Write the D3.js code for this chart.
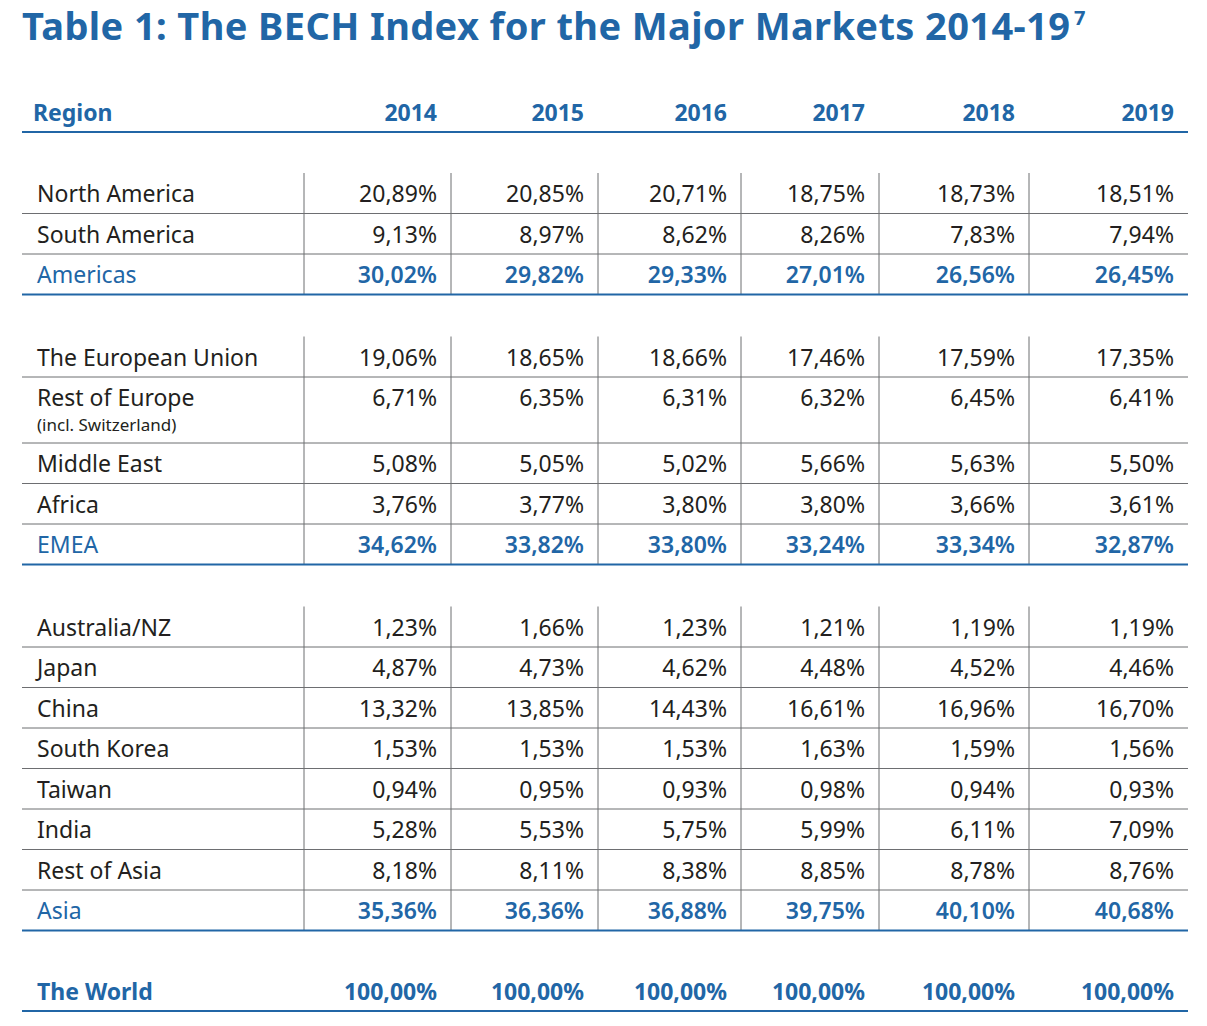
<!DOCTYPE html>
<html><head><meta charset="utf-8">
<script src="https://cdn.jsdelivr.net/npm/d3@7"></script>
<style>body{margin:0;background:#fff}svg{font-family:"Noto Sans",sans-serif}</style>
</head><body><div id="container"></div>
<script>
var years = ["2014","2015","2016","2017","2018","2019"];
var regions = ["North America","South America","Americas","The European Union","Rest of Europe","Middle East","Africa","EMEA","Australia/NZ","Japan","China","South Korea","Taiwan","India","Rest of Asia","Asia","The World"];
var totals = ["Americas","EMEA","Asia","The World"];
var groupOf = [0,0,0,1,1,1,1,1,2,2,2,2,2,2,2,2,3];
var values = [
 ["20,89%","20,85%","20,71%","18,75%","18,73%","18,51%"],
 ["9,13%","8,97%","8,62%","8,26%","7,83%","7,94%"],
 ["30,02%","29,82%","29,33%","27,01%","26,56%","26,45%"],
 ["19,06%","18,65%","18,66%","17,46%","17,59%","17,35%"],
 ["6,71%","6,35%","6,31%","6,32%","6,45%","6,41%"],
 ["5,08%","5,05%","5,02%","5,66%","5,63%","5,50%"],
 ["3,76%","3,77%","3,80%","3,80%","3,66%","3,61%"],
 ["34,62%","33,82%","33,80%","33,24%","33,34%","32,87%"],
 ["1,23%","1,66%","1,23%","1,21%","1,19%","1,19%"],
 ["4,87%","4,73%","4,62%","4,48%","4,52%","4,46%"],
 ["13,32%","13,85%","14,43%","16,61%","16,96%","16,70%"],
 ["1,53%","1,53%","1,53%","1,63%","1,59%","1,56%"],
 ["0,94%","0,95%","0,93%","0,98%","0,94%","0,93%"],
 ["5,28%","5,53%","5,75%","5,99%","6,11%","7,09%"],
 ["8,18%","8,11%","8,38%","8,85%","8,78%","8,76%"],
 ["35,36%","36,36%","36,88%","39,75%","40,10%","40,68%"],
 ["100,00%","100,00%","100,00%","100,00%","100,00%","100,00%"]
];

var blue = "#2166a6", ink = "#231f20", grey = "#6d6e71";
var L = 22, R = 1188;
var svg = d3.select("#container").append("svg").attr("width",1207).attr("height",1026);

var colX = d3.scaleOrdinal().domain(years).range([437,584,727,865,1015,1174]);
var sepX = [304,451,598,741,879,1029];

var rowH = regions.map(function(r){ return r=="Rest of Europe" ? 66 : 40.5; });
var gap = [0,42,42,40];
var tops = [], y = 173;
regions.forEach(function(r,i){
  if(i>0 && groupOf[i]!=groupOf[i-1]) y += gap[groupOf[i]];
  tops.push(y); y += rowH[i];
});

svg.append("text").attr("x",L).attr("y",40).attr("fill",blue)
  .style("font-size","38px").style("font-weight","bold").attr("textLength",1048)
  .text("Table 1: The BECH Index for the Major Markets 2014-19");
svg.append("text").attr("x",1074).attr("y",25).attr("fill",blue)
  .style("font-size","20px").style("font-weight","bold").text("7");

svg.append("text").attr("x",33).attr("y",121).attr("fill",blue).style("font-size","23px").style("font-weight","bold").text("Region");
svg.selectAll("text.yr").data(years).enter().append("text").attr("class","yr")
  .attr("x",function(d){return colX(d);}).attr("y",121).attr("text-anchor","end")
  .attr("fill",blue).style("font-size","23px").style("font-weight","bold").text(function(d){return d;});
svg.append("line").attr("x1",L).attr("x2",R).attr("y1",132).attr("y2",132).attr("stroke",blue).attr("stroke-width",2);

[0,1,2].forEach(function(g){
  var idx = regions.map(function(r,i){return i;}).filter(function(i){return groupOf[i]==g;});
  var y0 = tops[idx[0]], y1 = tops[idx[idx.length-1]] + rowH[idx[idx.length-1]];
  svg.selectAll(null).data(sepX).enter().append("line")
    .attr("x1",function(d){return d;}).attr("x2",function(d){return d;})
    .attr("y1",y0).attr("y2",y1).attr("stroke",grey).attr("stroke-width",1);
});

function weight(d){ return d=="The World" ? "bold" : (totals.indexOf(d)>=0 ? "600" : "normal"); }

var rows = svg.selectAll("g.row").data(regions).enter().append("g")
  .attr("transform",function(d,i){return "translate(0,"+tops[i]+")";});
rows.append("line").attr("x1",L).attr("x2",R)
  .attr("y1",function(d,i){return rowH[i];}).attr("y2",function(d,i){return rowH[i];})
  .attr("stroke",function(d){return totals.indexOf(d)>=0?blue:grey;})
  .attr("stroke-width",function(d){return totals.indexOf(d)>=0?2:1;});
rows.append("text").attr("x",37).attr("y",29).style("font-size","23px")
  .attr("fill",function(d){return totals.indexOf(d)>=0?blue:ink;})
  .style("font-weight",function(d){return d=="The World"?"bold":"normal";})
  .text(function(d){return d;});
rows.filter(function(d){return d=="Rest of Europe";}).append("text")
  .attr("x",37).attr("y",54).style("font-size","17px").attr("fill",ink).text("(incl. Switzerland)");
rows.each(function(d,i){
  d3.select(this).selectAll("text.v").data(values[i]).enter().append("text")
    .attr("x",function(v,j){return colX(years[j]);}).attr("y",29).attr("text-anchor","end")
    .style("font-size","23px")
    .style("font-weight",weight(d))
    .attr("fill",totals.indexOf(d)>=0?blue:ink).text(function(v){return v;});
});
</script></body></html>
